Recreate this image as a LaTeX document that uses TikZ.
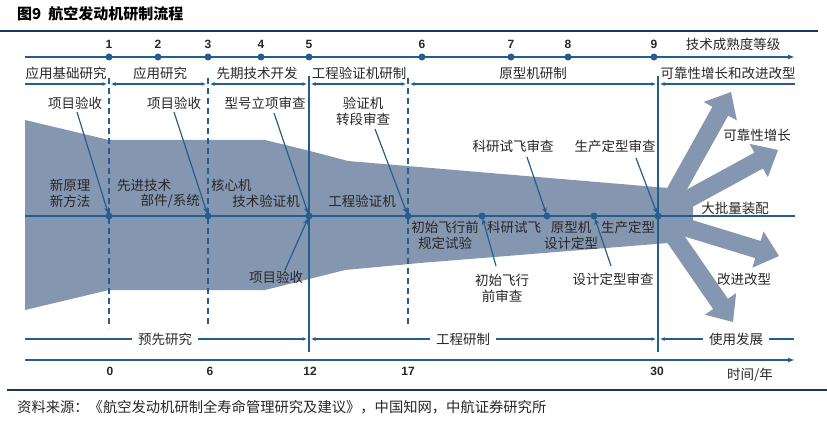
\documentclass[tikz,border=0pt]{standalone}
\usepackage{fontspec}
\setmainfont{Liberation Sans}
\newfontfamily\cjk{Noto Sans CJK SC}
\usetikzlibrary{arrows.meta,calc}
\definecolor{flow}{RGB}{133,151,176}
\definecolor{navy}{RGB}{23,55,94}
\definecolor{lblue}{RGB}{37,94,140}
\definecolor{txt}{RGB}{38,38,38}
\newcommand\fanarrow[2]{%
  \path (#1) coordinate (fO) (#2) coordinate (fT);
  \path ($(fT)!22pt!(fO)$) coordinate (fB);
  \fill[flow] ($(fO)!9pt!90:(fT)$) -- ($(fB)!9pt!90:(fT)$) -- ($(fB)!19pt!90:(fT)$)
    -- (fT) -- ($(fB)!19pt!-90:(fT)$) -- ($(fB)!9pt!-90:(fT)$) -- ($(fO)!9pt!-90:(fT)$) -- cycle;}
\tikzset{
  lbl/.style={font=\cjk\fontsize{13.5}{16}\selectfont, text=txt, inner sep=0pt, align=center},
  num/.style={font=\bfseries\fontsize{12}{14}\selectfont, text=txt, inner sep=0pt},
  titlestyle/.style={font=\cjk\bfseries\fontsize{15}{17}\selectfont, text=black, inner sep=0pt},
  srcstyle/.style={font=\cjk\fontsize{14.3}{17}\selectfont, text=txt, inner sep=0pt},
  rule/.style={draw=navy, line width=1.4pt},
  axis/.style={draw=lblue, line width=1.4pt},
  midline/.style={draw=lblue, line width=1.8pt},
  dashv/.style={draw=lblue, line width=1.8pt, dash pattern=on 6pt off 4pt},
  solidv/.style={draw=lblue, line width=1.8pt},
  dot/.style={circle, fill=lblue, inner sep=0pt, minimum size=7pt},
  ptr/.style={draw=lblue, line width=1.2pt, -{Stealth[length=6pt,width=5pt]}, shorten >=-1pt},
  tipa/.tip={Latex[length=4.5pt,width=4pt]},
  gapnode/.style={lbl, inner xsep=6pt}
}
\begin{document}
\begin{tikzpicture}[x=1pt,y=-1pt]
\useasboundingbox (0,0) rectangle (827,425);
% main flow shape
\fill[flow] (25,120) -- (109,140) -- (265,140) -- (310,151) -- (348,161) -- (668,188)
  -- (693,192) -- (693,224) -- (668,243) -- (420,263) -- (345,270) -- (265,290)
  -- (109,290) -- (25,310) -- cycle;
\fanarrow{668,205}{731,92}
\fanarrow{668,210}{778,150}
\fanarrow{668,222}{779,256}
\fanarrow{668,228}{733,322}
% title and rules
\node[titlestyle, anchor=west] (title) at (17,14) {图9\hspace{7pt}航空发动机研制流程};
\draw[rule] (0,31) -- (818,31);
\draw[rule] (7,390) -- (827,390);
\node[srcstyle, anchor=west] (src) at (17,407) {资料来源：《航空发动机研制全寿命管理研究及建议》，中国知网，中航证券研究所};
% vertical separators
\foreach \x in {109,208,408} \draw[dashv] (\x,78) -- (\x,328);
\foreach \x in {309,658} \draw[solidv] (\x,76) -- (\x,352);
% TRL axis
\draw[axis,-{Latex[length=7pt,width=5pt]}] (25,57) -- (795,57);
\foreach \x/\n [count=\i] in {109/1,158/2,208/3,261/4,309/5,422/6,511/7,568/8,654/9} {
  \node[dot] (t\i) at (\x,57) {};
  \node[num] (tn\i) at (\x,44) {\n};
}
\node[lbl] (trl) at (733,44) {技术成熟度等级};
% phase line (top)
\node[lbl] (ph1) at (66,73) {应用基础研究};
\node[lbl] (ph2) at (160,73) {应用研究};
\node[lbl] (ph3) at (257,73) {先期技术开发};
\node[lbl] (ph4) at (359,73) {工程验证机研制};
\node[lbl] (ph5) at (533,73) {原型机研制};
\node[lbl] (ph6) at (728,73) {可靠性增长和改进改型};
\coordinate (q0) at (25,84);
\coordinate (q1a) at (107,84); \coordinate (q1b) at (111,84);
\coordinate (q2a) at (206,84); \coordinate (q2b) at (210,84);
\coordinate (q3a) at (307,84); \coordinate (q3b) at (311,84);
\coordinate (q4a) at (406,84); \coordinate (q4b) at (410,84);
\coordinate (q5a) at (656,84); \coordinate (q5b) at (660,84);
\coordinate (q6) at (795,84);
\draw[axis,-tipa] (q0) -- (q1a);
\draw[axis,tipa-tipa] (q1b) -- (q2a);
\draw[axis,tipa-tipa] (q2b) -- (q3a);
\draw[axis,tipa-tipa] (q3b) -- (q4a);
\draw[axis,tipa-tipa] (q4b) -- (q5a);
\draw[axis,tipa-] (q5b) -- (q6);
% center line
\draw[midline] (25,216) -- (795,216);
\foreach \x [count=\i] in {109,208,309,408,482,547,594,658}
  \node[dot] (c\i) at (\x,216) {};
% labels above
\node[lbl] (a1) at (75,103) {项目验收};
\node[lbl] (a2) at (174,103) {项目验收};
\node[lbl] (a3) at (265,103) {型号立项审查};
\node[lbl] (a4) at (363,111) {验证机\\转段审查};
\node[lbl] (a5) at (513,146) {科研试飞审查};
\node[lbl] (a6) at (615,146) {生产定型审查};
% labels inside
\node[lbl] (i1) at (70,193) {新原理\\新方法};
\node[lbl, anchor=west] (i2a) at (117,185) {先进技术};
\node[lbl, anchor=east] (i2b) at (200,201) {部件/系统};
\node[lbl, anchor=west] (i3a) at (211,185) {核心机};
\node[lbl, anchor=east] (i3b) at (300,201) {技术验证机};
\node[lbl] (i4) at (362,201) {工程验证机};
\node[lbl] (i5) at (445,235) {初始飞行前\\规定试验};
\node[lbl] (i6) at (514,227) {科研试飞};
\node[lbl] (i7) at (571,235) {原型机\\设计定型};
\node[lbl] (i8) at (628,227) {生产定型};
\node[lbl] (r1) at (757,135) {可靠性增长};
\node[lbl] (r2) at (735,208) {大批量装配};
\node[lbl] (r3) at (744,279) {改进改型};
% labels below
\node[lbl] (b1) at (502,288) {初始飞行\\前审查};
\node[lbl] (b2) at (613,279) {设计定型审查};
\node[lbl] (b3) at (276,277) {项目验收};
% pointers
\coordinate (s1) at (77,112);
\coordinate (s2) at (174,112);
\coordinate (s3) at (274,113);
\coordinate (s4) at (375,129);
\coordinate (s5) at (527,157);
\coordinate (s6) at (636,158);
\coordinate (s7) at (496,266);
\coordinate (s8) at (611,266);
\coordinate (s9) at (285,270);
\draw[ptr] (s1) -- (c1);
\draw[ptr] (s2) -- (c2);
\draw[ptr] (s3) -- (c3);
\draw[ptr] (s4) -- (c4);
\draw[ptr] (s5) -- (c6);
\draw[ptr] (s6) -- (c8);
\draw[ptr] (s7) -- (c5);
\draw[ptr] (s8) -- (c7);
\draw[ptr] (s9) -- (c3);
% bottom phase line
\node[gapnode] (g1) at (165,339) {预先研究};
\node[gapnode] (g2) at (463,339) {工程研制};
\node[gapnode] (g3) at (736,339) {使用发展};
\coordinate (w0) at (25,339);
\coordinate (w1a) at (307,339); \coordinate (w1b) at (311,339);
\coordinate (w2a) at (656,339); \coordinate (w2b) at (660,339);
\coordinate (w3) at (794,339);
\draw[axis] (w0) -- (g1.west);
\draw[axis,-tipa] (g1.east) -- (w1a);
\draw[axis,tipa-] (w1b) -- (g2.west);
\draw[axis,-tipa] (g2.east) -- (w2a);
\draw[axis,tipa-] (w2b) -- (g3.west);
\draw[axis] (g3.east) -- (w3);
% time axis
\draw[axis,-{Latex[length=7pt,width=5pt]}] (25,360) -- (795,360);
\foreach \x/\n [count=\i] in {110/0,210/6,310/12,408/17,657/30}
  \node[num] (y\i) at (\x,371) {\n};
\node[lbl] (tunit) at (750,375) {时间/年};
\end{tikzpicture}
\end{document}
